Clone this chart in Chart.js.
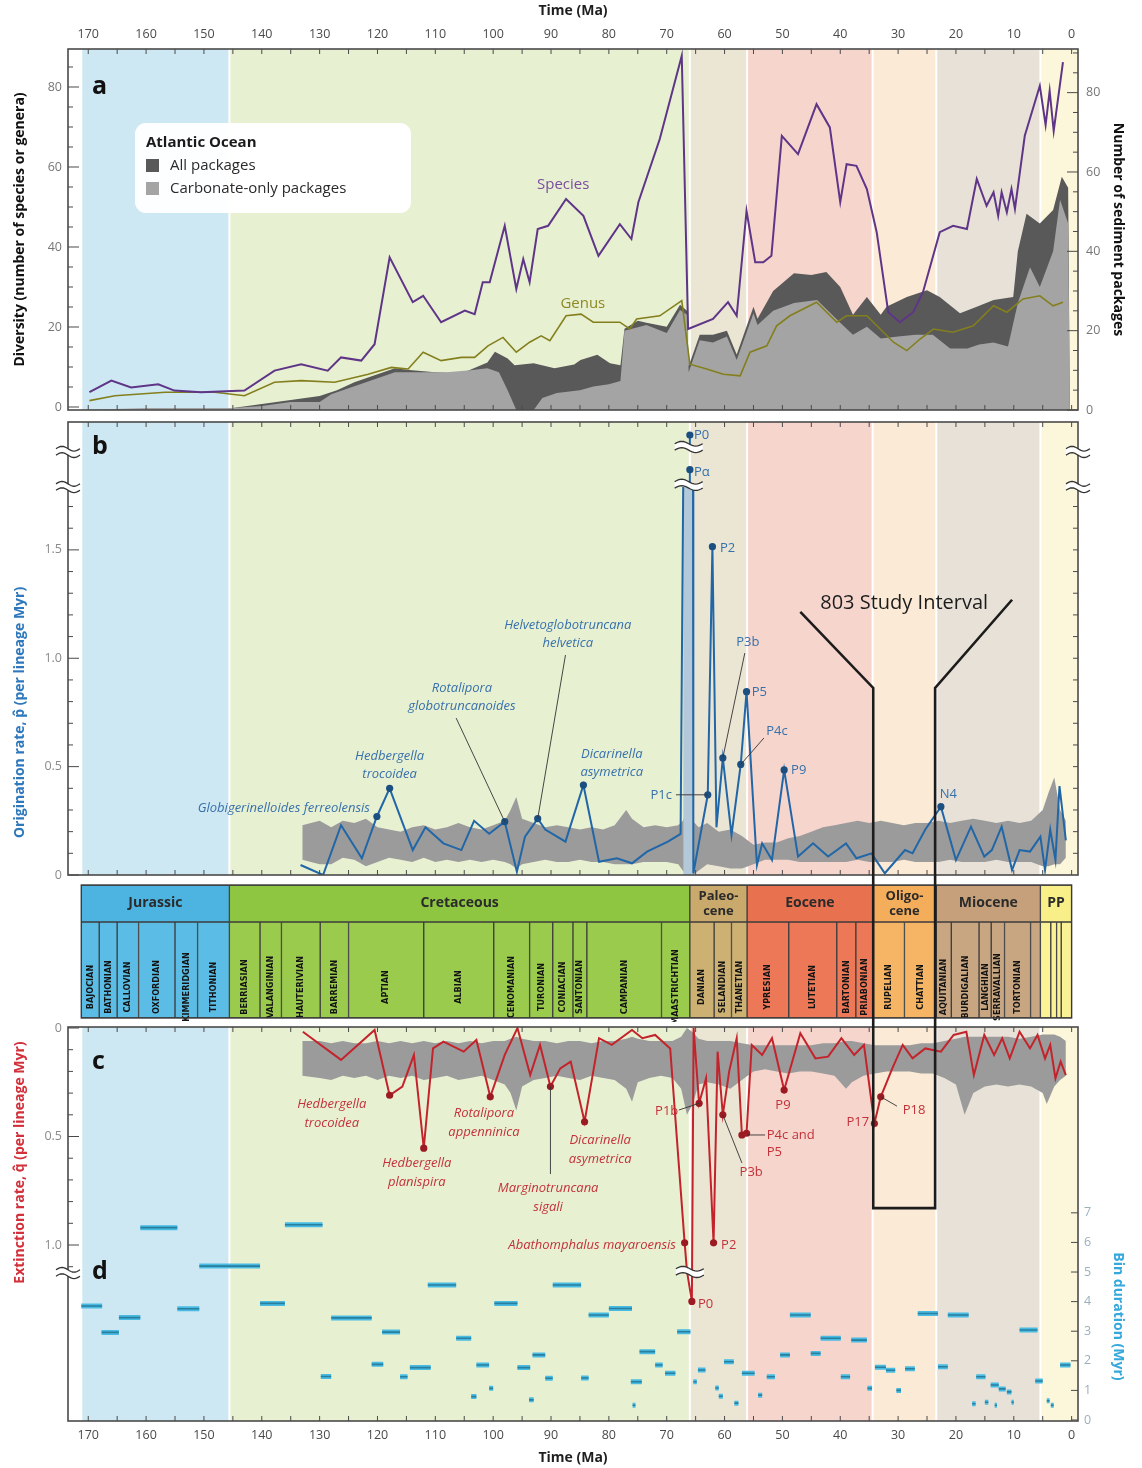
<!DOCTYPE html>
<html>
<head>
<meta charset="utf-8">
<title>Atlantic planktic foraminifera: diversity and turnover</title>
<script src="https://cdn.jsdelivr.net/npm/chart.js@4.4.1/dist/chart.umd.min.js"></script>
<style>
  html, body { margin: 0; background: #fff; }
  #page { position: relative; width: 1142px; height: 1468px; overflow: hidden; }
  #page canvas { position: absolute; left: 0; }
</style>
</head>
<body>
<div id="page">
  <canvas id="diversity" width="1142" height="416" style="top:0"></canvas>
  <canvas id="origination" width="1142" height="466" style="top:416px"></canvas>
  <canvas id="timescale" width="1142" height="140" style="top:882px"></canvas>
  <canvas id="extinction" width="1142" height="446" style="top:1022px"></canvas>
</div>
<script>
// ---- data (ages in Ma) ----
const AGE_LABELS = [170, 160, 150, 140, 130, 120, 110, 100, 90, 80, 70, 60, 50, 40, 30, 20, 10, 0];

// a: diversity
const speciesAge = [169.8,166.0,162.6,157.9,155.1,150.5,143.0,137.8,133.2,128.6,126.3,122.8,120.5,117.9,113.9,112.1,109.0,104.9,103.2,101.8,100.6,98.0,96.0,94.8,93.7,92.3,90.5,87.4,84.4,81.8,78.1,76.1,74.9,71.2,67.4,66.3,62.0,59.4,57.9,56.2,54.7,53.3,51.9,50.1,47.3,44.1,41.8,40.0,38.9,37.2,35.4,33.7,31.7,29.7,27.4,25.7,22.8,20.5,18.1,16.4,14.7,13.5,12.7,12.1,11.2,10.4,9.8,8.1,5.5,4.5,3.8,3.1,1.5];
const speciesCount = [3.7,6.6,4.9,5.7,4.1,3.7,4.1,9.1,10.7,9.1,12.4,11.6,15.7,37.4,26.2,27.8,21.2,24.1,23.2,31.2,31.2,45.3,29.5,37.0,31.2,44.5,45.3,52.0,47.8,37.8,45.7,42.0,51.2,67.0,87.8,19.5,22.0,26.2,22.8,49.0,36.2,36.2,37.8,67.8,63.2,75.7,69.9,51.2,60.7,60.3,54.5,43.7,23.7,21.2,23.7,28.7,43.7,45.3,44.5,57.0,50.3,53.7,47.8,53.7,48.7,54.5,49.5,67.8,80.3,70.5,79.0,69.0,86.2];
const genusAge = [169.8,165.4,156.7,148.1,143.0,137.8,133.2,127.4,121.6,117.6,114.7,112.1,109.0,105.5,103.2,100.9,98.3,96.0,93.7,91.7,90.2,87.4,84.8,82.7,78.1,76.4,75.2,71.2,67.4,66.0,63.1,60.2,57.3,55.6,52.7,51.0,48.7,44.1,40.6,38.9,35.4,33.1,30.8,28.5,26.2,23.9,20.5,17.0,13.5,11.2,8.4,5.5,3.2,1.5];
const genusCount = [1.6,2.8,3.7,3.7,2.8,6.2,6.6,6.2,8.2,9.9,9.5,13.7,11.6,12.4,12.4,15.3,17.4,13.7,16.2,17.8,16.6,22.8,23.2,21.2,21.2,19.5,22.0,22.8,26.6,10.7,9.5,8.2,7.8,13.7,15.3,20.3,22.8,26.2,21.2,22.8,22.8,19.5,16.2,14.1,17.0,19.5,18.7,20.3,25.3,23.7,27.0,27.8,25.3,26.2];
const allPkgAge = [171.2,150,145,140,135,130,127,124,120,117,114,110,105.5,101,99.7,97.5,96.3,93,89.4,86,84.9,82,79.8,78,77.3,75,73.5,70,67.7,66.5,66.2,64.3,62,59.6,57.9,55,54.3,51.6,48,45,42.4,40,37.8,35.4,33,32,28.5,25,22.8,19.3,16.4,13.5,10.1,9.3,7.8,5.5,3.2,1.7,0.6,0.3];
const allPkgCount = [0,0,0.5,1.5,2.5,3.5,5,7,9,10.5,10,9.5,9.2,12,14.7,13,11.3,11.8,10.5,11.5,12.6,13.9,11.8,11.3,20.5,22.5,22,21,26.5,25,11,19,19,20,14,26,23,30,34.5,34,34.8,31,24,28.5,24,26,28.5,30.2,28.5,24.4,26,27.7,28.5,40,49.5,47,50.4,58.8,56,0];
const carbPkgAge = [171.2,160,150,145,140,135,130,128,124,120,117,113,108,104,101,99,97.5,96,93,91.5,89,85,82.7,80,78,77.3,73.5,70,67.7,66.5,66.2,64.3,62,59.6,57.9,55,54.3,51.6,48,44,40,37.8,35.4,33,30,27,24,21,18,16,13.5,11,9.3,7.2,5.5,3.2,2,0.6,0.3];
const carbPkgCount = [0,0.5,0.5,0.5,1,2,2,4,6,8,9.5,9.5,9.5,10,10.5,9.5,5,0,0,3,4.3,5,5.9,6.5,7.3,20,21.4,19.4,25.2,24,9.5,17.6,17,18.5,12.6,24.4,21.4,25,27,27.7,22,19,21,18,18.5,19,19,15.5,15.5,16.5,17,16,27,36,31,40,53,47,0];

// b: origination rate (null = axis break)
const origAge = [133.3,129.4,126.3,122.7,120.1,117.9,113.9,111.7,108.6,105.5,103.3,100.7,98.0,95.9,94.5,92.3,91.0,87.5,84.4,81.7,78.6,76.0,73.4,69.8,67.6,67.15,66.3,65.45,65.4,62.9,62.1,61.4,60.3,58.8,57.2,56.2,54.4,53.5,51.8,49.7,47.3,44.7,42.1,39.0,37.2,34.6,32.3,28.8,27.5,25.3,22.6,20.0,17.4,15.1,13.8,12.1,10.3,9.0,7.2,5.4,4.6,3.7,2.8,2.1,1.0];
const origRate = [0.046,0.0,0.23,0.077,0.27,0.40,0.115,0.22,0.146,0.115,0.25,0.19,0.246,0.015,0.177,0.26,0.21,0.154,0.415,0.061,0.077,0.054,0.108,0.154,0.19,1.79,null,1.79,0.008,0.37,1.515,0.22,0.54,0.185,0.51,0.846,0.046,0.146,0.069,0.485,0.085,0.146,0.085,0.146,0.077,0.1,0.008,0.115,0.1,0.21,0.315,0.069,0.223,0.085,0.115,0.223,0.023,0.115,0.108,0.177,0.023,0.21,0.069,0.41,0.16];
const origMarked = [120.1,117.9,98.0,92.3,84.4,62.9,62.1,60.3,57.2,56.2,49.7,22.6];
const origPeakAge = [66.0, 66.0];          // P0, P-alpha above the break
const origPeakRate = [2.03, 1.87];
const origBandAge = [133,130,128,126,124,122,120,118,116,114,112,110,108,106,104,102,100,98,97,96,95,93,91,89,87,85,83,81,79,77,76,74,72,70,68,67.2,66.5,65.5,64.5,63,61,59,57,55,53,51,49,47,45,43,41,39,37,35,33,31,29,27,25,23,21,19,17,15,13,11,9,7,5,4,3,2,1];
const origBandLow = [0.07,0.05,0.05,0.08,0.07,0.04,0.06,0.08,0.07,0.06,0.08,0.06,0.07,0.06,0.07,0.06,0.07,0.06,0.05,0.03,0.05,0.06,0.07,0.06,0.06,0.07,0.06,0.06,0.05,0.05,0.05,0.06,0.06,0.06,0.05,0.02,0.0,0.0,0.02,0.05,0.04,0.03,0.03,0.05,0.07,0.07,0.07,0.06,0.06,0.06,0.06,0.06,0.07,0.06,0.06,0.06,0.07,0.06,0.06,0.06,0.07,0.06,0.06,0.06,0.07,0.06,0.06,0.06,0.04,0.04,0.05,0.05,0.08];
const origBandHigh = [0.23,0.25,0.22,0.25,0.24,0.26,0.22,0.21,0.2,0.22,0.23,0.21,0.22,0.24,0.22,0.21,0.23,0.25,0.3,0.36,0.26,0.24,0.22,0.23,0.22,0.21,0.22,0.21,0.23,0.3,0.26,0.22,0.23,0.22,0.23,0.25,0.3,0.25,0.22,0.24,0.2,0.21,0.18,0.14,0.15,0.15,0.17,0.18,0.2,0.22,0.23,0.24,0.25,0.24,0.25,0.24,0.23,0.24,0.24,0.25,0.24,0.25,0.26,0.25,0.24,0.25,0.24,0.25,0.3,0.38,0.45,0.3,0.25];

// c: extinction rate
const extAge = [132.9,126.3,120.5,117.9,115.7,113.7,112.0,110.4,108.6,105.1,102.9,100.5,98.0,95.8,93.6,91.9,90.1,88.4,86.6,84.2,81.7,79.5,76.0,74.2,72.0,69.4,66.9,66.5,65.65,65.35,64.4,63.2,61.9,61.2,60.3,59.2,57.9,57.0,56.2,55.3,53.5,51.8,49.7,46.9,44.3,42.1,39.8,37.6,35.9,34.1,33.0,31.0,29.2,27.5,25.3,22.6,20.4,18.2,16.9,15.1,13.4,12.0,10.7,9.0,7.2,5.9,4.6,3.7,2.8,1.9,1.0];
const extRate = [0.017,0.147,0.009,0.31,0.27,0.124,0.554,0.094,0.063,0.109,0.055,0.317,0.124,0.0,0.217,0.078,0.27,0.186,0.155,0.432,0.047,0.078,0.009,0.047,0.032,0.094,0.99,1.12,1.26,0.0,0.347,0.232,0.99,0.109,0.40,0.2,0.047,0.493,0.485,0.078,0.124,0.047,0.286,0.024,0.14,0.132,0.047,0.124,0.078,0.44,0.317,0.186,0.078,0.14,0.094,0.109,0.032,0.017,0.217,0.032,0.124,0.047,0.14,0.017,0.094,0.032,0.14,0.078,0.232,0.155,0.217];
const extMarked = [117.9,112.0,100.5,90.1,84.2,66.9,65.65,64.4,61.9,60.3,57.0,56.2,49.7,34.1,33.0];
const extBandAge = [133,130,128,126,124,122,120,118,116,114,112,110,108,106,104,102,100,98,97,96,95,93,91,89,87,85,83,81,79,77,76,75,73,71,69,67.5,66.5,65.5,64.5,63,61,59,57,55,53,51,49,47,45,43,41,39,38,36,34,32,30,28,26,24,22,20,18.5,17,15,13,11,9,7,5,4.3,3,2,1];
const extBandTop = [0.06,0.06,0.07,0.06,0.07,0.07,0.06,0.07,0.06,0.07,0.06,0.07,0.06,0.07,0.06,0.07,0.06,0.06,0.05,0.04,0.05,0.06,0.06,0.07,0.06,0.06,0.07,0.06,0.06,0.05,0.04,0.05,0.06,0.06,0.06,0.04,0.0,0.02,0.05,0.06,0.06,0.06,0.07,0.08,0.08,0.08,0.08,0.08,0.08,0.07,0.07,0.06,0.06,0.07,0.08,0.08,0.08,0.08,0.07,0.07,0.06,0.05,0.04,0.04,0.04,0.04,0.04,0.05,0.04,0.03,0.03,0.03,0.04,0.06];
const extBandBottom = [0.22,0.23,0.24,0.22,0.23,0.22,0.24,0.22,0.23,0.22,0.24,0.23,0.22,0.24,0.23,0.22,0.24,0.26,0.3,0.38,0.27,0.24,0.23,0.22,0.23,0.24,0.22,0.23,0.24,0.28,0.34,0.25,0.23,0.22,0.23,0.28,0.4,0.35,0.26,0.25,0.26,0.28,0.24,0.2,0.19,0.2,0.21,0.2,0.2,0.21,0.22,0.28,0.25,0.22,0.21,0.2,0.2,0.2,0.21,0.21,0.23,0.26,0.4,0.3,0.27,0.26,0.27,0.26,0.27,0.3,0.35,0.27,0.24,0.22];

// d: bin durations (each bin spans old -> young)
const binOld = [171.2,167.7,164.7,161.0,154.6,150.8,145.5,140.3,136.0,129.8,128.0,121.0,119.2,116.1,114.4,111.3,106.4,103.8,102.9,100.7,99.8,95.8,93.8,93.2,91.0,89.7,84.8,83.5,80.0,76.2,75.9,74.7,72.0,70.3,68.2,65.4,64.6,61.6,61.0,60.1,58.3,57.0,54.2,52.7,50.4,48.7,45.1,43.4,39.9,38.1,35.3,34.0,32.1,30.3,28.8,26.6,23.1,21.4,17.2,16.5,15.0,14.0,13.3,12.6,11.2,10.4,9.0,6.3,4.3,3.6,2.0];
const binYoung = [167.6,164.7,161.0,154.6,150.8,145.5,140.3,136.0,129.5,128.0,121.0,119.0,116.1,114.8,110.8,106.4,103.8,102.9,100.7,100.0,95.8,93.6,93.0,91.0,89.7,84.8,83.5,80.0,76.0,74.3,75.4,72.0,70.7,68.5,65.9,64.8,63.3,61.0,60.3,58.4,57.6,54.8,53.5,51.3,48.7,45.1,43.4,39.9,38.3,35.4,34.5,32.1,30.5,29.5,27.1,23.1,21.4,17.8,16.6,14.9,14.4,12.6,12.9,11.4,10.4,10.0,5.9,5.0,3.8,3.1,0.2];
const binDuration = [3.85,2.96,3.46,6.5,3.76,5.2,5.2,3.94,6.6,1.47,3.45,1.88,2.97,1.46,1.77,4.56,2.76,0.79,1.86,1.07,3.94,1.77,0.68,2.2,1.41,4.56,1.42,3.55,3.77,1.29,0.5,2.31,1.86,1.58,2.98,1.29,1.69,1.08,0.8,1.97,0.57,1.58,0.84,1.46,2.2,3.55,2.25,2.76,1.46,2.7,1.07,1.78,1.68,1.0,1.73,3.6,1.8,3.55,0.55,1.46,0.6,1.18,0.5,1.05,0.95,0.6,3.04,1.32,0.65,0.5,1.86];

// geologic time scale
const periodNames = ['Jurassic', 'Cretaceous', 'Paleo-\ncene', 'Eocene', 'Oligo-\ncene', 'Miocene', 'PP'];
const periodOld = [171.2, 145.6, 66.0, 56.1, 34.4, 23.4, 5.4];
const periodYoung = [145.6, 66.0, 56.1, 34.4, 23.4, 5.4, 0];
const stageNames = ['BAJOCIAN','BATHONIAN','CALLOVIAN','OXFORDIAN','KIMMERIDGIAN','TITHONIAN','BERRIASIAN','VALANGINIAN','HAUTERIVIAN','BARREMIAN','APTIAN','ALBIAN','CENOMANIAN','TURONIAN','CONIACIAN','SANTONIAN','CAMPANIAN','MAASTRICHTIAN','DANIAN','SELANDIAN','THANETIAN','YPRESIAN','LUTETIAN','BARTONIAN','PRIABONIAN','RUPELIAN','CHATTIAN','AQUITANIAN','BURDIGALIAN','LANGHIAN','SERRAVALLIAN','TORTONIAN','','','','',''];
const stageOld = [171.2,168.1,165.0,161.3,155.0,151.1,145.6,140.3,136.6,129.9,125.0,112.0,99.9,93.7,89.7,86.2,83.8,70.9,66.0,61.8,58.8,56.1,48.9,40.6,37.3,34.4,28.9,23.4,20.8,16.0,13.9,11.6,7.1,5.4,3.6,2.6,1.8];
const stageYoung = [168.1,165.0,161.3,155.0,151.1,145.6,140.3,136.6,129.9,125.0,112.0,99.9,93.7,89.7,86.2,83.8,70.9,66.0,61.8,58.8,56.1,48.9,40.6,37.3,34.4,28.9,23.4,20.8,16.0,13.9,11.6,7.1,5.4,3.6,2.6,1.8,0];
const stagePeriod = [0,0,0,0,0,0,1,1,1,1,1,1,1,1,1,1,1,1,2,2,2,3,3,3,3,4,4,5,5,5,5,5,5,6,6,6,6];

// ---- styling ----
const FONT = '"Open Sans", "Noto Sans", "DejaVu Sans", sans-serif';
const NARROW = '"Liberation Sans Narrow", "DejaVu Sans Condensed", sans-serif';
const FRAME = '#4a4a4a';
const PERIOD_COLORS = ['#4db4e1', '#8ec641', '#c9a96c', '#e8714f', '#f4ad5b', '#c5a07a', '#f8ef88'];
const STAGE_COLORS = ['#5bbde5', '#9acb4c', '#cdb172', '#ec7857', '#f6b565', '#c8a681', '#fbf296'];
const BAND_COLORS = ['#cee8f3', '#e8f0d2', '#ebe5d4', '#f6d5cd', '#fbead5', '#e8e1d7', '#fcf7da'];
const AGE_MIN = -1.1, AGE_MAX = 173.5;

Chart.defaults.font.family = FONT;
Chart.defaults.animation = false;
Chart.defaults.plugins.legend.display = false;
Chart.defaults.plugins.tooltip.enabled = false;

const pts = (xs, ys) => xs.map((x, i) => ({ x, y: ys[i] }));
const steps = (from, to, step) => {
  const out = [];
  for (let v = from; v <= to + 1e-9; v += step) out.push(+v.toFixed(2));
  return out;
};
const fmtRate = v => (v === 0 ? '0' : v.toFixed(1));
const markedRadius = list => c => (c.raw && list.includes(c.raw.x) ? 3.6 : 0);

function ageAxis(position, show, fitHeight) {
  return {
    type: 'linear', position, min: AGE_MIN, max: AGE_MAX, reverse: true, display: show,
    grid: { display: false, drawTicks: false },
    border: { display: false },
    afterBuildTicks: s => { s.ticks = AGE_LABELS.map(value => ({ value })); },
    afterFit: s => { if (fitHeight) s.height = fitHeight; s.paddingLeft = 0; s.paddingRight = 0; },
    ticks: { color: '#4a4a4a', font: { size: 12.5 }, padding: 7, maxRotation: 0, autoSkip: false },
    title: {
      display: show, text: 'Time (Ma)', color: '#1e1e1e', font: { size: 14, weight: 'bold' },
      padding: { top: 2.6, bottom: 1.6 }
    }
  };
}

function valueAxis(position, min, max, labels, opts) {
  return Object.assign({
    type: 'linear', position, min, max,
    grid: { display: false, drawTicks: false },
    border: { display: false },
    afterBuildTicks: s => { s.ticks = labels.map(value => ({ value })); },
    afterFit: s => { s.width = position === 'left' ? 68 : 64; s.paddingTop = 0; s.paddingBottom = 0; },
    ticks: { color: '#777', font: { size: 12.5, lineHeight: 1 }, padding: position === 'left' ? 6 : 8 }
  }, opts);
}

// pale era bands behind the data
const eraBands = {
  id: 'eraBands',
  beforeDatasetsDraw(chart) {
    const { ctx, chartArea: a, scales: { x } } = chart;
    ctx.save();
    periodOld.forEach((o, i) => {
      const x0 = x.getPixelForValue(o) + 1;
      const x1 = i === periodOld.length - 1 ? a.right : x.getPixelForValue(periodYoung[i]) - 1;
      ctx.fillStyle = BAND_COLORS[i];
      ctx.fillRect(x0, a.top, x1 - x0, a.bottom - a.top);
    });
    ctx.restore();
  }
};

// outer frame with inward ticks
const frame = {
  id: 'frame',
  afterDatasetsDraw(chart, args, o) {
    const { ctx, chartArea: a, scales } = chart;
    ctx.save();
    ctx.strokeStyle = FRAME;
    ctx.lineWidth = 1;
    steps(0, 170, 5).forEach(v => {
      const p = scales.x.getPixelForValue(v);
      ctx.beginPath();
      ctx.moveTo(p, a.top); ctx.lineTo(p, a.top + 5);
      ctx.moveTo(p, a.bottom); ctx.lineTo(p, a.bottom - 5);
      ctx.stroke();
    });
    (o.yTicks || []).forEach(spec => {
      const s = scales[spec.scale];
      const edge = spec.side === 'left' ? a.left : a.right;
      const dir = spec.side === 'left' ? 1 : -1;
      spec.major.concat(spec.minor).forEach(v => {
        const p = s.getPixelForValue(v);
        const len = spec.major.includes(v) ? spec.majorLen || 11 : 5;
        ctx.beginPath();
        ctx.moveTo(edge, p); ctx.lineTo(edge + dir * len, p);
        ctx.stroke();
      });
    });
    ctx.lineWidth = 1.6;
    ctx.strokeRect(a.left, a.top, a.right - a.left, a.bottom - a.top);
    ctx.restore();
  }
};

function drawBreak(ctx, cx, cy, w) {
  const wave = dy => {
    const p = [];
    for (let i = 0; i <= 16; i++) {
      const t = i / 16;
      p.push([cx - w / 2 + t * w, cy + dy - Math.sin(t * 2 * Math.PI) * 2.4]);
    }
    return p;
  };
  const up = wave(-3.2), dn = wave(3.2);
  ctx.save();
  ctx.fillStyle = '#fff';
  ctx.beginPath();
  up.forEach(([x, y], i) => (i ? ctx.lineTo(x, y) : ctx.moveTo(x, y)));
  dn.slice().reverse().forEach(([x, y]) => ctx.lineTo(x, y));
  ctx.closePath();
  ctx.fill();
  ctx.strokeStyle = '#333';
  ctx.lineWidth = 1.3;
  [up, dn].forEach(p => {
    ctx.beginPath();
    p.forEach(([x, y], i) => (i ? ctx.lineTo(x, y) : ctx.moveTo(x, y)));
    ctx.stroke();
  });
  ctx.restore();
}

// labels, leader lines, axis breaks, panel letters, rotated titles
const notes = {
  id: 'notes',
  afterDraw(chart, args, o) {
    const { ctx, chartArea: a, scales } = chart;
    const X = v => scales.x.getPixelForValue(v);
    const Y = (v, id) => scales[id || o.yId].getPixelForValue(v);
    ctx.save();
    ctx.textBaseline = 'middle';

    (o.study || []).forEach(path => {
      ctx.strokeStyle = '#1c1c1c';
      ctx.lineWidth = 2.6;
      ctx.lineJoin = 'miter';
      ctx.beginPath();
      path.forEach(([age, v], i) => {
        const px = X(age);
        const py = v === 'top' ? 0 : v === 'bottom' ? chart.height : Y(v);
        i ? ctx.lineTo(px, py) : ctx.moveTo(px, py);
      });
      ctx.stroke();
    });

    (o.leaders || []).forEach(([p, q]) => {
      ctx.strokeStyle = '#333';
      ctx.lineWidth = 0.9;
      ctx.beginPath();
      ctx.moveTo(X(p[0]), Y(p[1]));
      ctx.lineTo(X(q[0]), Y(q[1]));
      ctx.stroke();
    });

    (o.labels || []).forEach(l => {
      ctx.font = l.font || o.font;
      ctx.fillStyle = l.color || o.color;
      ctx.textAlign = l.align || 'left';
      const x = X(l.at[0]);
      const y = Y(l.at[1], l.yId);
      l.text.split('\n').forEach((line, i) => ctx.fillText(line, x, y + i * (l.lh || 18)));
    });

    (o.breaks || []).forEach(b => {
      const x = b.edge === 'left' ? a.left : b.edge === 'right' ? a.right : X(b.age);
      drawBreak(ctx, x, Y(b.v), b.w || 24);
    });

    (o.letters || []).forEach(l => {
      ctx.font = 'bold 25px ' + FONT;
      ctx.fillStyle = '#111';
      ctx.textAlign = 'left';
      ctx.fillText(l.text, a.left + 24, a.top + l.dy);
    });

    (o.titles || []).forEach(t => {
      ctx.save();
      ctx.font = 'bold 14px ' + FONT;
      ctx.fillStyle = t.color;
      ctx.textAlign = 'center';
      ctx.translate(t.x, Y(t.v, t.yId));
      ctx.rotate(t.rot);
      ctx.fillText(t.text, 0, 0);
      ctx.restore();
    });

    if (o.legend) {
      const L = o.legend;
      ctx.fillStyle = 'rgba(255,255,255,0.96)';
      ctx.beginPath();
      ctx.roundRect(L.x, L.y, L.w, L.h, 11);
      ctx.fill();
      ctx.textAlign = 'left';
      ctx.fillStyle = '#1a1a1a';
      ctx.font = 'bold 15px ' + FONT;
      ctx.fillText(L.title, L.x + 11, L.y + 20);
      L.items.forEach((idx, i) => {
        const ds = chart.data.datasets[idx];
        const y = L.y + 43 + i * 23;
        ctx.fillStyle = ds.backgroundColor;
        ctx.fillRect(L.x + 11, y - 7, 13, 13);
        ctx.fillStyle = '#2a2a2a';
        ctx.font = '15px ' + FONT;
        ctx.fillText(ds.label, L.x + 35, y);
      });
    }
    ctx.restore();
  }
};

const STUDY_OLD = 34.3, STUDY_YOUNG = 23.6;

// ---- a: diversity ----
new Chart(document.getElementById('diversity'), {
  type: 'line',
  data: {
    datasets: [
      { label: 'Species', data: pts(speciesAge, speciesCount), yAxisID: 'y', borderColor: '#5f3588', borderWidth: 2, pointRadius: 0, order: 1 },
      { label: 'Genus', data: pts(genusAge, genusCount), yAxisID: 'y', borderColor: '#847f1d', borderWidth: 1.6, pointRadius: 0, order: 2 },
      { label: 'Carbonate-only packages', data: pts(carbPkgAge, carbPkgCount), yAxisID: 'yR', fill: 'origin', backgroundColor: '#a4a4a4', borderColor: 'rgba(0,0,0,0)', borderWidth: 0, pointRadius: 0, order: 3 },
      { label: 'All packages', data: pts(allPkgAge, allPkgCount), yAxisID: 'yR', fill: 'origin', backgroundColor: '#595959', borderColor: 'rgba(0,0,0,0)', borderWidth: 0, pointRadius: 0, order: 4 }
    ]
  },
  options: {
    responsive: false, devicePixelRatio: 1,
    layout: { padding: { top: 0, bottom: 6, left: 0, right: 0 } },
    scales: {
      x: ageAxis('top', true, 49),
      y: valueAxis('left', -0.75, 89.5, [0, 20, 40, 60, 80], {
        title: { display: true, text: 'Diversity (number of species or genera)', color: '#111', font: { size: 14, weight: 'bold' }, padding: { top: 11.6, bottom: 0 } }
      }),
      yR: valueAxis('right', 0, 91, [0, 20, 40, 60, 80], {
        title: { display: true, text: 'Number of sediment packages', color: '#111', font: { size: 14, weight: 'bold' }, padding: { top: 15.6, bottom: 0 } }
      })
    },
    plugins: {
      frame: {
        yTicks: [
          { scale: 'y', side: 'left', major: [0, 20, 40, 60, 80], minor: steps(5, 85, 5).filter(v => v % 20) },
          { scale: 'yR', side: 'right', major: [0, 20, 40, 60, 80], minor: steps(5, 90, 5).filter(v => v % 20) }
        ]
      },
      notes: {
        yId: 'y', font: '15px ' + FONT,
        labels: [
          { at: [87.9, 55.5], text: 'Species', align: 'center', color: '#7a4c9f' },
          { at: [84.5, 25.75], text: 'Genus', align: 'center', color: '#8d8922' }
        ],
        letters: [{ text: 'a', dy: 38 }],
        legend: { x: 135, y: 123, w: 276, h: 90, title: 'Atlantic Ocean', items: [3, 2] }
      }
    }
  },
  plugins: [eraBands, frame, notes]
});

// ---- b: origination rate ----
const blueNote = 'italic 13px ' + FONT;
new Chart(document.getElementById('origination'), {
  type: 'line',
  data: {
    datasets: [
      { label: 'upper', data: pts(origBandAge, origBandHigh), fill: 1, backgroundColor: '#9b9b9b', borderColor: 'rgba(0,0,0,0)', borderWidth: 0, pointRadius: 0, order: 6 },
      { label: 'lower', data: pts(origBandAge, origBandLow), fill: false, borderColor: 'rgba(0,0,0,0)', borderWidth: 0, pointRadius: 0, order: 7 },
      { label: 'K-Pg spike', data: pts([67.15, 65.45], [1.79, 1.79]), fill: 'origin', backgroundColor: '#b3c8d8', borderColor: 'rgba(0,0,0,0)', borderWidth: 0, pointRadius: 0, order: 5 },
      {
        label: 'Origination rate', data: pts(origAge, origRate), borderColor: '#2166a6', borderWidth: 2,
        pointRadius: markedRadius(origMarked), pointBackgroundColor: '#1b4f82', pointBorderWidth: 0, order: 2
      },
      {
        label: 'Off-scale', data: [{ x: origPeakAge[0], y: origPeakRate[0] }, { x: origPeakAge[0], y: 1.965 }, { x: origPeakAge[0], y: null },
          { x: origPeakAge[1], y: origPeakRate[1] }, { x: origPeakAge[1], y: 1.80 }],
        borderColor: '#2166a6', borderWidth: 2, order: 1,
        pointRadius: c => (c.raw && origPeakRate.includes(c.raw.y) ? 3.6 : 0), pointBackgroundColor: '#1b4f82', pointBorderWidth: 0
      }
    ]
  },
  options: {
    responsive: false, devicePixelRatio: 1,
    layout: { padding: { top: 6, bottom: 7, left: 0, right: 64 } },
    scales: {
      x: ageAxis('bottom', false),
      y: valueAxis('left', 0, 2.09, [0, 0.5, 1, 1.5], { ticks: { color: '#8a8a8a', font: { size: 12.5, lineHeight: 1 }, padding: 6, callback: fmtRate } })
    },
    plugins: {
      frame: {
        yTicks: [
          { scale: 'y', side: 'left', major: [0, 0.5, 1, 1.5], minor: [0.1, 0.2, 0.3, 0.4, 0.6, 0.7, 0.8, 0.9, 1.1, 1.2, 1.3, 1.4, 1.6, 1.7] },
          { scale: 'y', side: 'right', major: [], minor: steps(0.1, 1.7, 0.1) }
        ]
      },
      notes: {
        yId: 'y', font: blueNote, color: '#3771ab',
        study: [
          [[46.9, 1.214], [STUDY_OLD, 0.863], [STUDY_OLD, 'bottom']],
          [[10.3, 1.27], [STUDY_YOUNG, 0.863], [STUDY_YOUNG, 'bottom']]
        ],
        leaders: [
          [[106.4, 0.724], [98.0, 0.246]],
          [[87.5, 1.015], [92.3, 0.26]],
          [[68.4, 0.37], [62.9, 0.37]],
          [[56.5, 1.024], [60.3, 0.54]],
          [[53.2, 0.632], [57.2, 0.51]]
        ],
        labels: [
          { at: [121.3, 0.309], text: 'Globigerinelloides ferreolensis', align: 'right' },
          { at: [117.9, 0.546], text: 'Hedbergella\ntrocoidea', align: 'center' },
          { at: [105.4, 0.863], text: 'Rotalipora\nglobotruncanoides', align: 'center' },
          { at: [87.1, 1.154], text: 'Helvetoglobotruncana\nhelvetica', align: 'center' },
          { at: [79.5, 0.558], text: 'Dicarinella\nasymetrica', align: 'center' },
          { at: [69.1, 0.369], text: 'P1c', align: 'right', font: '13px ' + FONT },
          { at: [60.8, 1.509], text: 'P2', font: '13px ' + FONT },
          { at: [58.0, 1.075], text: 'P3b', font: '13px ' + FONT },
          { at: [55.3, 0.845], text: 'P5', font: '13px ' + FONT },
          { at: [52.8, 0.665], text: 'P4c', font: '13px ' + FONT },
          { at: [48.5, 0.485], text: 'P9', font: '13px ' + FONT },
          { at: [22.8, 0.374], text: 'N4', font: '13px ' + FONT },
          { at: [65.3, 2.03], text: 'P0', font: '13px ' + FONT },
          { at: [65.3, 1.86], text: 'P\u03b1', font: '13px ' + FONT },
          { at: [28.95, 1.255], text: '803 Study Interval', align: 'center', font: '20px ' + FONT, color: '#1c1c1c' }
        ],
        breaks: [
          { edge: 'left', v: 1.952 }, { edge: 'left', v: 1.79 },
          { edge: 'right', v: 1.952 }, { edge: 'right', v: 1.79 },
          { age: 66.2, v: 1.975, w: 28 }, { age: 66.2, v: 1.80, w: 28 }
        ],
        letters: [{ text: 'b', dy: 25 }],
        titles: [{ text: 'Origination rate, p\u0302 (per lineage Myr)', color: '#2e78bc', x: 20, v: 0.75, rot: -Math.PI / 2 }]
      }
    }
  },
  plugins: [eraBands, frame, notes]
});

// ---- geologic time scale ----
const scaleText = {
  id: 'scaleText',
  afterDatasetsDraw(chart) {
    const { ctx, scales: { x } } = chart;
    ctx.save();
    ctx.textAlign = 'center';
    ctx.textBaseline = 'middle';
    chart.getDatasetMeta(0).data.forEach((bar, i) => {
      const cx = (bar.x + bar.base) / 2;
      const lines = periodNames[i].split('\n');
      ctx.fillStyle = '#2b2b2b';
      ctx.font = (lines.length > 1 ? 'bold 13px ' : 'bold 14px ') + FONT;
      lines.forEach((line, k) => ctx.fillText(line, cx, bar.y + (k - (lines.length - 1) / 2) * 15));
    });
    ctx.font = 'bold 9px ' + NARROW;
    ctx.fillStyle = '#141414';
    chart.getDatasetMeta(1).data.forEach((bar, i) => {
      if (!stageNames[i]) return;
      ctx.save();
      ctx.translate((bar.x + bar.base) / 2, bar.y + 17);
      ctx.rotate(-Math.PI / 2);
      ctx.fillText(stageNames[i], 0, 0);
      ctx.restore();
    });
    // outline of the whole column
    const a = chart.chartArea;
    ctx.strokeStyle = '#3b3b3b';
    ctx.lineWidth = 1.4;
    const x0 = x.getPixelForValue(periodOld[0]);
    ctx.strokeRect(x0, a.top, x.getPixelForValue(0) - x0, a.bottom - a.top);
    ctx.restore();
  }
};

new Chart(document.getElementById('timescale'), {
  type: 'bar',
  data: {
    datasets: [
      {
        label: 'Epoch', data: periodOld.map((o, i) => ({ x: [o, periodYoung[i]], y: 18.5 })),
        backgroundColor: PERIOD_COLORS, borderColor: '#3d3d3d', borderWidth: 1, borderSkipped: false,
        barThickness: 37, grouped: false
      },
      {
        label: 'Stage', data: stageOld.map((o, i) => ({ x: [o, stageYoung[i]], y: 85 })),
        backgroundColor: stagePeriod.map(p => STAGE_COLORS[p]), borderColor: '#3d3d3d', borderWidth: 1, borderSkipped: false,
        barThickness: 96, grouped: false
      }
    ]
  },
  options: {
    responsive: false, devicePixelRatio: 1, indexAxis: 'y',
    layout: { padding: { top: 3, bottom: 4, left: 68, right: 64 } },
    scales: {
      x: ageAxis('bottom', false),
      y: { type: 'linear', min: 0, max: 133, reverse: true, display: false, offset: false }
    },
    plugins: {
      notes: {
        yId: 'y',
        study: [[[STUDY_OLD, 'top'], [STUDY_OLD, 'bottom']], [[STUDY_YOUNG, 'top'], [STUDY_YOUNG, 'bottom']]]
      }
    }
  },
  plugins: [scaleText, notes]
});

// ---- c: extinction rate, d: bin duration ----
const binSegments = [];
binOld.forEach((o, i) => {
  binSegments.push({ x: o, y: binDuration[i] }, { x: binYoung[i], y: binDuration[i] }, { x: binYoung[i], y: null });
});
const redNote = 'italic 13px ' + FONT;
new Chart(document.getElementById('extinction'), {
  type: 'line',
  data: {
    datasets: [
      { label: 'upper', data: pts(extBandAge, extBandTop), yAxisID: 'yc', fill: 1, backgroundColor: '#9b9b9b', borderColor: 'rgba(0,0,0,0)', borderWidth: 0, pointRadius: 0, order: 6 },
      { label: 'lower', data: pts(extBandAge, extBandBottom), yAxisID: 'yc', fill: false, borderColor: 'rgba(0,0,0,0)', borderWidth: 0, pointRadius: 0, order: 7 },
      {
        label: 'Extinction rate', data: pts(extAge, extRate), yAxisID: 'yc', borderColor: '#c3242c', borderWidth: 2,
        pointRadius: markedRadius(extMarked), pointBackgroundColor: '#9c1a21', pointBorderWidth: 0, order: 1
      },
      { label: 'Bin duration', data: binSegments, yAxisID: 'yd', borderColor: '#48bbe2', borderWidth: 5, borderCapStyle: 'butt', pointRadius: 0, order: 3 },
      { label: 'Bin duration core', data: binSegments, yAxisID: 'yd', borderColor: '#2a7f9f', borderWidth: 1.6, borderCapStyle: 'butt', pointRadius: 0, order: 2 }
    ]
  },
  options: {
    responsive: false, devicePixelRatio: 1,
    layout: { padding: { top: 5, bottom: 0, left: 0, right: 0 } },
    scales: {
      x: ageAxis('bottom', true, 47),
      yc: valueAxis('left', -0.0046, 1.811, [0, 0.5, 1], { reverse: true, ticks: { color: '#8a8a8a', font: { size: 12.5, lineHeight: 1 }, padding: 6, callback: fmtRate } }),
      yd: valueAxis('right', -0.034, 13.28, [0, 1, 2, 3, 4, 5, 6, 7], { ticks: { color: '#9bb0bb', font: { size: 12.5, lineHeight: 1 }, padding: 6 } })
    },
    plugins: {
      frame: {
        yTicks: [
          { scale: 'yc', side: 'left', major: [0, 0.5, 1], minor: [0.1, 0.2, 0.3, 0.4, 0.6, 0.7, 0.8, 0.9, 1.1] },
          { scale: 'yd', side: 'right', major: [0, 1, 2, 3, 4, 5, 6, 7], minor: [], majorLen: 7 }
        ]
      },
      notes: {
        yId: 'yc', font: redNote, color: '#c3323a',
        study: [[[STUDY_OLD, 'top'], [STUDY_OLD, 0.83], [STUDY_YOUNG, 0.83], [STUDY_YOUNG, 'top']]],
        leaders: [
          [[90.1, 0.27], [90.1, 0.673]],
          [[67.9, 0.378], [64.4, 0.347]],
          [[60.3, 0.40], [57.0, 0.622]],
          [[56.1, 0.493], [53.0, 0.493]],
          [[33.0, 0.317], [30.2, 0.36]]
        ],
        labels: [
          { at: [127.9, 0.35], text: 'Hedbergella\ntrocoidea', align: 'center', lh: 19 },
          { at: [113.2, 0.622], text: 'Hedbergella\nplanispira', align: 'center', lh: 19 },
          { at: [101.6, 0.392], text: 'Rotalipora\nappenninica', align: 'center', lh: 19 },
          { at: [81.5, 0.516], text: 'Dicarinella\nasymetrica', align: 'center', lh: 19 },
          { at: [90.5, 0.737], text: 'Marginotruncana\nsigali', align: 'center', lh: 19 },
          { at: [68.4, 1.0], text: 'Abathomphalus mayaroensis', align: 'right' },
          { at: [60.6, 1.0], text: 'P2', font: '13px ' + FONT },
          { at: [64.6, 1.272], text: 'P0', font: '13px ' + FONT },
          { at: [68.0, 0.386], text: 'P1b', align: 'right', font: '13px ' + FONT },
          { at: [57.4, 0.664], text: 'P3b', font: '13px ' + FONT },
          { at: [52.7, 0.493], text: 'P4c and\nP5', font: '13px ' + FONT, lh: 17 },
          { at: [49.9, 0.355], text: 'P9', align: 'center', font: '13px ' + FONT },
          { at: [35.0, 0.433], text: 'P17', align: 'right', font: '13px ' + FONT },
          { at: [29.2, 0.378], text: 'P18', font: '13px ' + FONT }
        ],
        breaks: [{ edge: 'left', v: 1.129 }, { age: 66.0, v: 1.124, w: 28 }],
        letters: [{ text: 'c', dy: 35 }, { text: 'd', dy: 245 }],
        titles: [
          { text: 'Extinction rate, q\u0302 (per lineage Myr)', color: '#d2303a', x: 20, v: 0.62, rot: -Math.PI / 2 },
          { text: 'Bin duration (Myr)', color: '#36a9dc', x: 1118, v: 3.5, yId: 'yd', rot: Math.PI / 2 }
        ]
      }
    }
  },
  plugins: [eraBands, frame, notes]
});
</script>
</body>
</html>
